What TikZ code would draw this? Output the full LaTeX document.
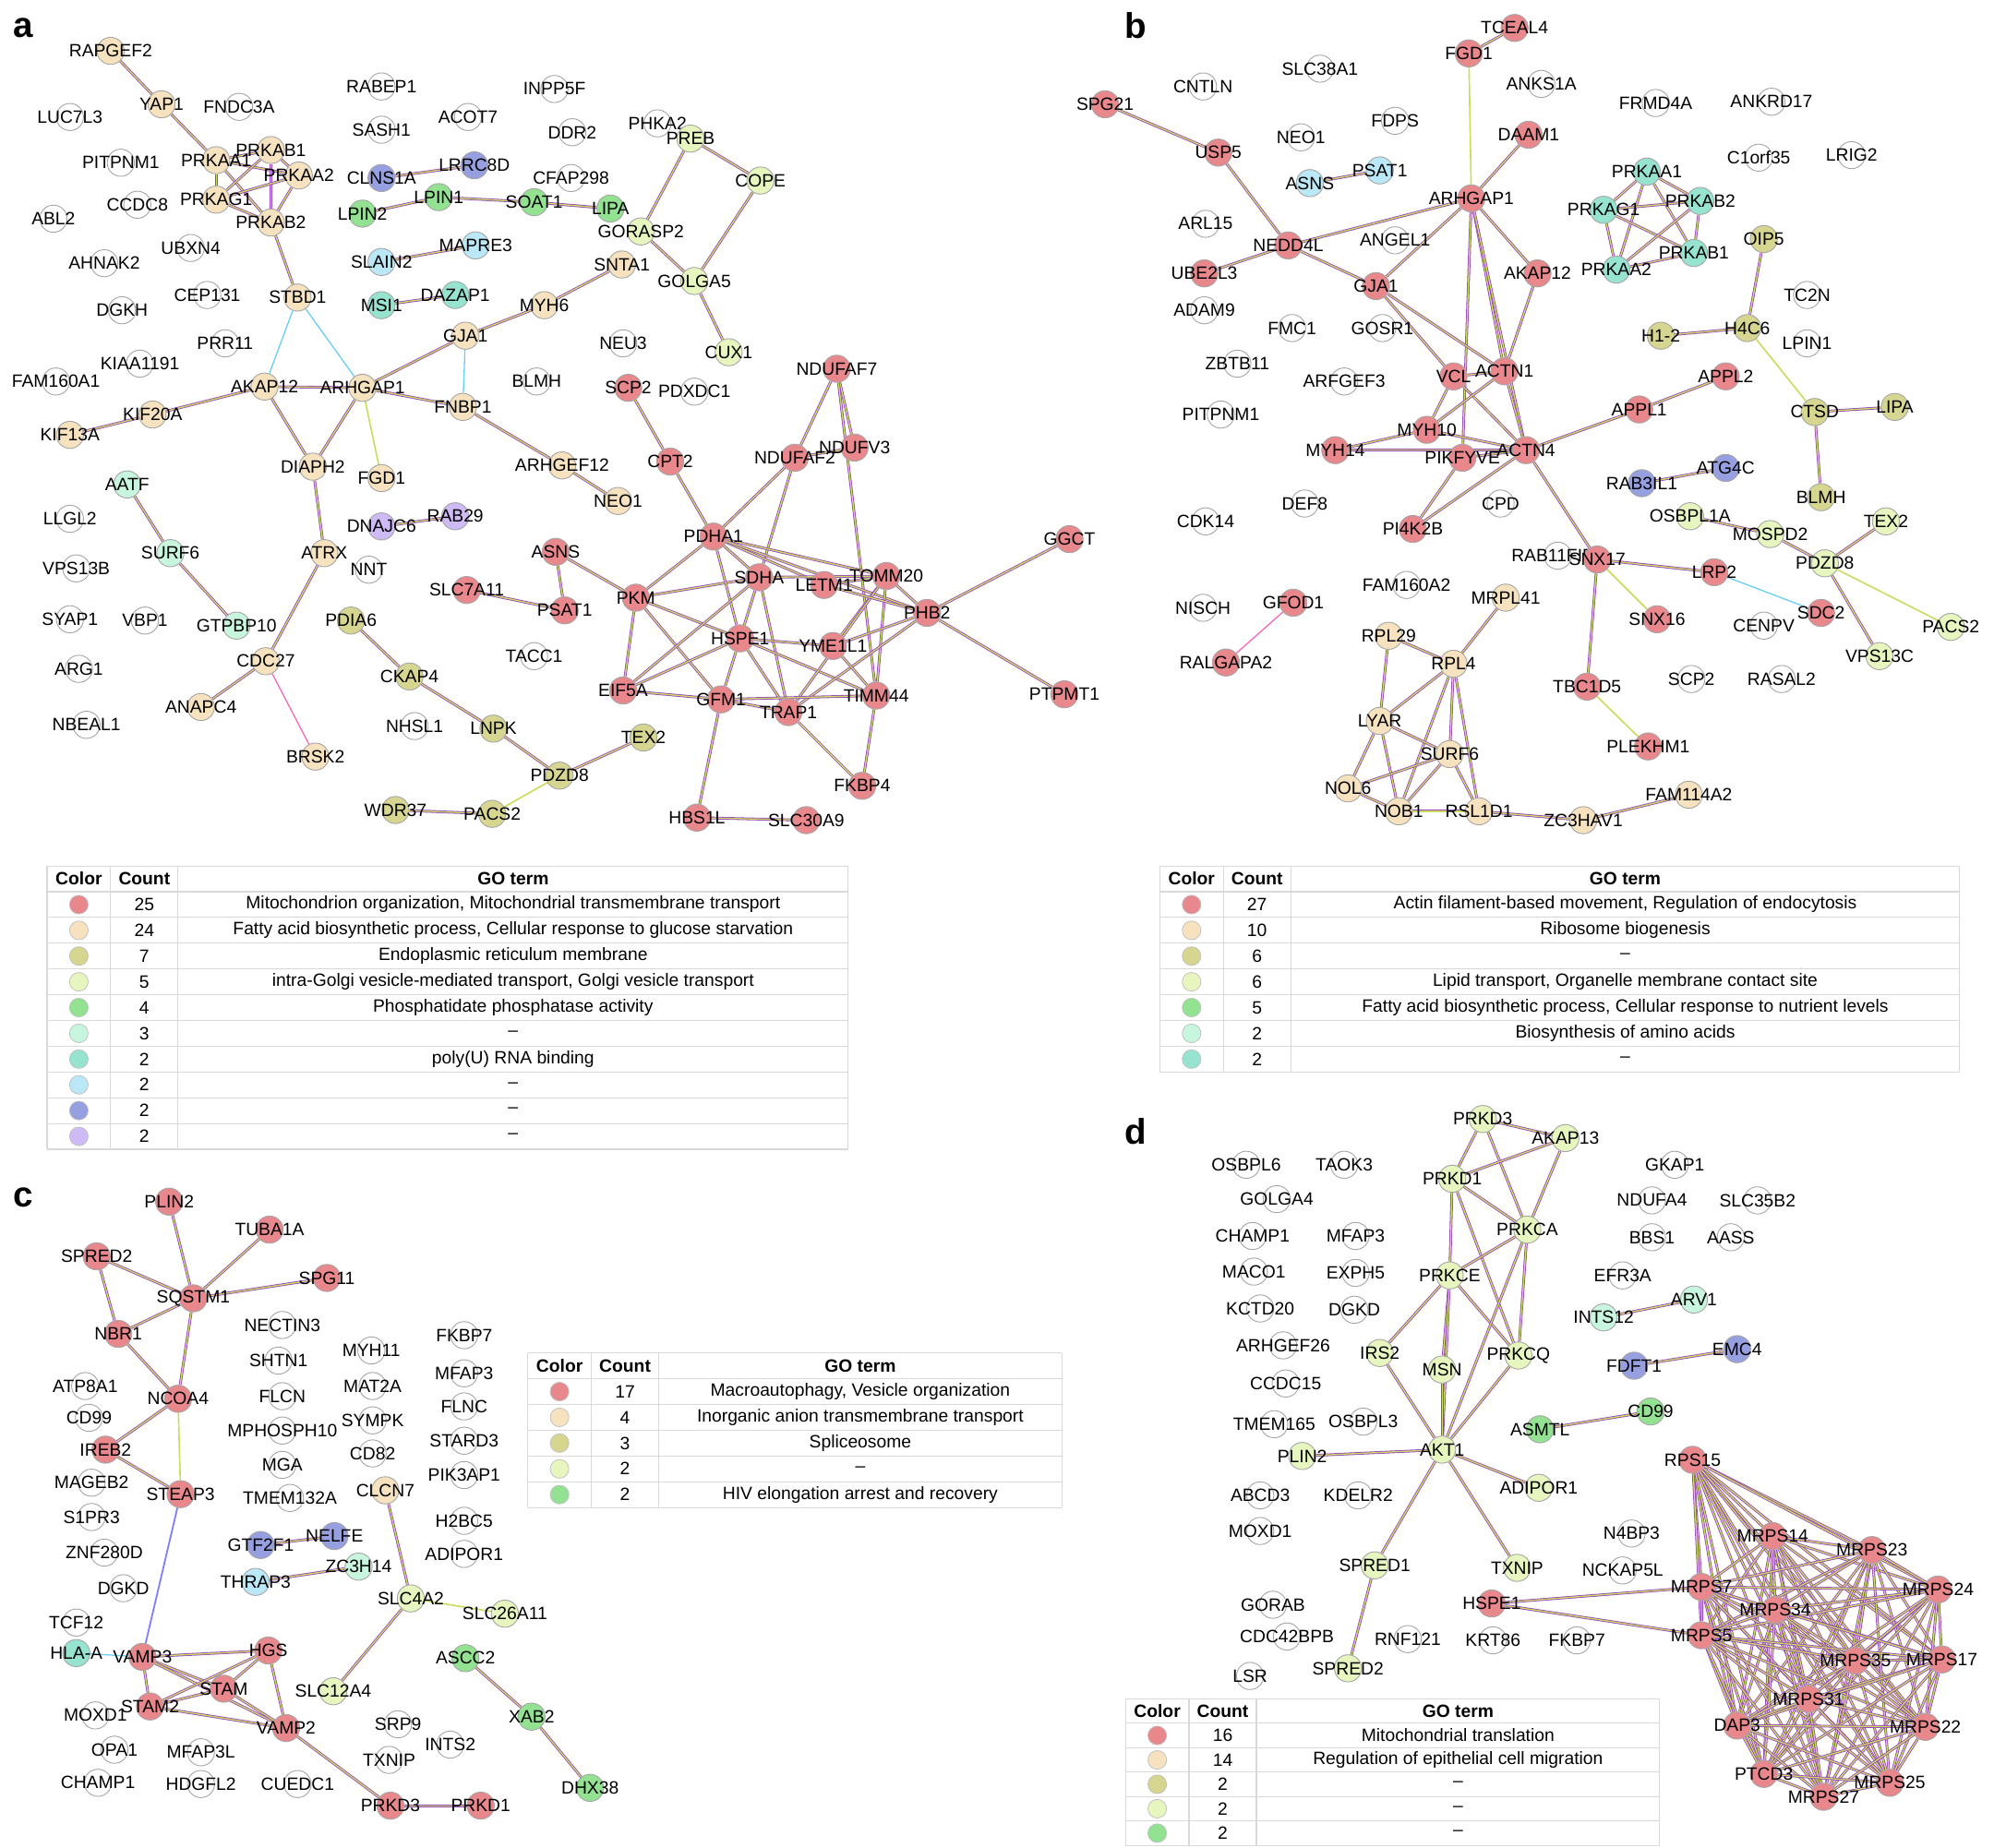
\documentclass[tikz,border=0pt]{standalone}
\usepackage{fontspec}
\setmainfont{Liberation Sans}
\pgfdeclarelayer{bg}\pgfsetlayers{bg,main}
\definecolor{cR}{RGB}{233,136,140}
\definecolor{cT}{RGB}{246,226,190}
\definecolor{cO}{RGB}{214,214,144}
\definecolor{cLG}{RGB}{230,246,190}
\definecolor{cG}{RGB}{146,226,146}
\definecolor{cM}{RGB}{200,245,222}
\definecolor{cTe}{RGB}{150,228,208}
\definecolor{cLB}{RGB}{186,232,246}
\definecolor{cB}{RGB}{150,160,224}
\definecolor{cL}{RGB}{206,186,244}
\definecolor{eY}{RGB}{205,220,95}
\definecolor{eP}{RGB}{150,70,190}
\tikzset{
 gene/.style={circle,draw=gray!70,line width=0.5pt,minimum size=16pt,inner sep=0pt},
 lab/.style={font=\fontsize{10.5}{12}\selectfont,inner sep=0pt,text=black},
 edge/.style={draw=eP,line width=0.45pt,double=eY,double distance=0.7pt},
 cedge/.style={draw=cyan!60,line width=0.7pt},
 yedge/.style={draw=eY,line width=0.9pt},
 panel/.style={font=\bfseries\fontsize{21}{24}\selectfont,inner sep=0pt},
 hd/.style={font=\bfseries\fontsize{10.5}{12}\selectfont,inner sep=0pt}
}
\newcommand\G[5]{\node[gene,fill=#5,label={[lab]center:#2}] (#1#2) at (#3,#4) {};}
\newcommand\E[2]{\foreach \u/\v in {#2}{\draw[edge] (#1\u)--(#1\v);}}
\newcommand\Clq[2]{\foreach \u [count=\i] in {#2}{\foreach \v [count=\j] in {#2}{\ifnum\i<\j \draw[edge] (#1\u)--(#1\v);\fi}}}
\def\rh{20.25}
\newcommand\Leg[8]{%
 \foreach \k in {0,...,#8}{\draw[gray!30,line width=0.6pt] (#2,{#6+\rh*\k})--(#5,{#6+\rh*\k});}
 \draw[gray!30,line width=0.6pt] (#2,{#6+\rh*(#8+1)})--(#5,{#6+\rh*(#8+1)});
 \foreach \xx in {#2,#3,#4,#5}{\draw[gray!30,line width=0.6pt] (\xx,#6)--(\xx,{#6+\rh*(#8+1)});}
 \node[hd] (#1h1) at ({(#2+#3)/2},{#6+\rh/2}) {Color};
 \node[hd] (#1h2) at ({(#3+#4)/2},{#6+\rh/2}) {Count};
 \node[hd] (#1h3) at ({(#4+#5)/2},{#6+\rh/2}) {GO term};
 \foreach [count=\i] \c/\n/\t in {#7}{%
  \node[circle,fill=\c,draw=gray!50,minimum size=11pt,inner sep=0pt] (#1c\i) at ({(#2+#3)/2},{#6+\rh/2+\rh*\i}) {};
  \node[lab] (#1n\i) at ({(#3+#4)/2},{#6+\rh/2+\rh*\i}) {\n};
  \node[lab] (#1t\i) at ({(#4+#5)/2},{#6+\rh/2+\rh*\i}) {\t};}}
\begin{document}
\begin{tikzpicture}[x=0.75pt,y=-0.75pt]
\useasboundingbox (0,0) rectangle (1568,1453);
\node[panel] (pa) at (18,22) {a};
\node[panel] (pb) at (893,20) {b};
\node[panel] (pc) at (18,942) {c};
\node[panel] (pd) at (893,890) {d};
% ---------- panel a
\G{a}{RAPGEF2}{87}{40}{cT}\G{a}{YAP1}{127}{82}{cT}\G{a}{FNDC3A}{188}{84}{white}
\G{a}{LUC7L3}{55}{92}{white}\G{a}{RABEP1}{300}{68}{white}\G{a}{INPP5F}{436}{70}{white}
\G{a}{SASH1}{300}{102}{white}\G{a}{ACOT7}{368}{92}{white}\G{a}{DDR2}{450}{104}{white}
\G{a}{PHKA2}{517}{97}{white}\G{a}{PRKAB1}{213}{118}{cT}\G{a}{PITPNM1}{95}{128}{white}
\G{a}{PRKAA1}{170}{126}{cT}\G{a}{PRKAA2}{235}{138}{cT}\G{a}{CLNS1A}{300}{140}{cB}
\G{a}{LRRC8D}{373}{130}{cB}\G{a}{CFAP298}{449}{140}{white}\G{a}{PREB}{543}{109}{cLG}
\G{a}{COPE}{598}{142}{cLG}\G{a}{CCDC8}{108}{161}{white}\G{a}{PRKAG1}{170}{157}{cT}
\G{a}{LPIN2}{285}{168}{cG}\G{a}{LPIN1}{345}{155}{cG}\G{a}{SOAT1}{420}{159}{cG}
\G{a}{LIPA}{480}{164}{cG}\G{a}{ABL2}{42}{172}{white}\G{a}{PRKAB2}{213}{175}{cT}
\G{a}{UBXN4}{150}{195}{white}\G{a}{GORASP2}{504}{182}{cLG}\G{a}{AHNAK2}{82}{207}{white}
\G{a}{SLAIN2}{300}{206}{cLB}\G{a}{MAPRE3}{374}{193}{cLB}\G{a}{SNTA1}{489}{208}{cT}
\G{a}{GOLGA5}{546}{221}{cLG}\G{a}{CEP131}{163}{232}{white}\G{a}{STBD1}{234}{234}{cT}
\G{a}{DGKH}{96}{244}{white}\G{a}{MSI1}{300}{240}{cTe}\G{a}{DAZAP1}{358}{232}{cTe}
\G{a}{MYH6}{428}{240}{cT}\G{a}{GJA1}{366}{264}{cT}\G{a}{CUX1}{573}{277}{cLG}
\G{a}{KIAA1191}{110}{286}{white}\G{a}{PRR11}{177}{270}{white}\G{a}{NEU3}{490}{270}{white}
\G{a}{FAM160A1}{44}{300}{white}\G{a}{AKAP12}{208}{304}{cT}\G{a}{ARHGAP1}{285}{305}{cT}
\G{a}{FNBP1}{364}{320}{cT}\G{a}{BLMH}{422}{300}{white}\G{a}{SCP2}{494}{305}{cR}
\G{a}{PDXDC1}{546}{308}{white}\G{a}{NDUFAF7}{658}{290}{cR}\G{a}{KIF20A}{120}{326}{cT}
\G{a}{KIF13A}{55}{342}{cT}\G{a}{NDUFAF2}{625}{360}{cR}\G{a}{NDUFV3}{672}{352}{cR}
\G{a}{ARHGEF12}{442}{366}{cT}\G{a}{CPT2}{527}{363}{cR}\G{a}{DIAPH2}{246}{367}{cT}
\G{a}{FGD1}{300}{376}{cT}\G{a}{NEO1}{486}{394}{cT}\G{a}{AATF}{100}{381}{cM}
\G{a}{LLGL2}{55}{408}{white}\G{a}{DNAJC6}{300}{414}{cL}\G{a}{RAB29}{358}{406}{cL}
\G{a}{SURF6}{134}{435}{cM}\G{a}{ATRX}{255}{435}{cT}\G{a}{NNT}{290}{448}{white}
\G{a}{VPS13B}{60}{447}{white}\G{a}{PDHA1}{561}{422}{cR}\G{a}{GGCT}{841}{424}{cR}
\G{a}{ASNS}{437}{434}{cR}\G{a}{SDHA}{597}{454}{cR}\G{a}{LETM1}{648}{460}{cR}
\G{a}{TOMM20}{697}{453}{cR}\G{a}{SLC7A11}{367}{464}{cR}\G{a}{PSAT1}{444}{480}{cR}
\G{a}{PKM}{500}{470}{cR}\G{a}{PHB2}{729}{482}{cR}\G{a}{SYAP1}{55}{487}{white}
\G{a}{VBP1}{114}{488}{white}\G{a}{GTPBP10}{186}{492}{cM}\G{a}{PDIA6}{276}{488}{cO}
\G{a}{TACC1}{420}{516}{white}\G{a}{HSPE1}{582}{502}{cR}\G{a}{YME1L1}{655}{508}{cR}
\G{a}{ARG1}{62}{526}{white}\G{a}{CDC27}{209}{520}{cT}\G{a}{CKAP4}{322}{532}{cO}
\G{a}{EIF5A}{490}{543}{cR}\G{a}{GFM1}{567}{550}{cR}\G{a}{TIMM44}{689}{547}{cR}
\G{a}{TRAP1}{620}{560}{cR}\G{a}{PTPMT1}{837}{546}{cR}\G{a}{NBEAL1}{68}{570}{white}
\G{a}{ANAPC4}{158}{556}{cT}\G{a}{NHSL1}{326}{571}{white}\G{a}{LNPK}{388}{573}{cO}
\G{a}{TEX2}{506}{580}{cO}\G{a}{BRSK2}{248}{595}{cT}\G{a}{PDZD8}{440}{610}{cO}
\G{a}{FKBP4}{678}{618}{cR}\G{a}{WDR37}{311}{637}{cO}\G{a}{PACS2}{387}{640}{cO}
\G{a}{HBS1L}{548}{643}{cR}\G{a}{SLC30A9}{634}{645}{cR}
% ---------- panel b
\G{b}{TCEAL4}{1191}{22}{cR}\G{b}{FGD1}{1155}{42}{cR}\G{b}{SPG21}{869}{82}{cR}
\G{b}{CNTLN}{946}{68}{white}\G{b}{SLC38A1}{1038}{54}{white}\G{b}{ANKS1A}{1212}{66}{white}
\G{b}{FRMD4A}{1302}{81}{white}\G{b}{ANKRD17}{1393}{80}{white}\G{b}{USP5}{958}{120}{cR}
\G{b}{NEO1}{1023}{108}{white}\G{b}{FDPS}{1097}{95}{white}\G{b}{DAAM1}{1202}{106}{cR}
\G{b}{C1orf35}{1383}{124}{white}\G{b}{LRIG2}{1456}{122}{white}\G{b}{ASNS}{1030}{144}{cLB}
\G{b}{PSAT1}{1085}{134}{cLB}\G{b}{PRKAA1}{1295}{135}{cTe}\G{b}{ARHGAP1}{1157}{156}{cR}
\G{b}{PRKAG1}{1261}{165}{cTe}\G{b}{PRKAB2}{1337}{158}{cTe}\G{b}{ARL15}{948}{176}{white}
\G{b}{NEDD4L}{1013}{193}{cR}\G{b}{ANGEL1}{1097}{189}{white}\G{b}{PRKAA2}{1271}{212}{cTe}
\G{b}{PRKAB1}{1332}{199}{cTe}\G{b}{OIP5}{1387}{188}{cO}\G{b}{UBE2L3}{947}{215}{cR}
\G{b}{AKAP12}{1209}{215}{cR}\G{b}{GJA1}{1082}{225}{cR}\G{b}{TC2N}{1421}{232}{white}
\G{b}{ADAM9}{947}{244}{white}\G{b}{FMC1}{1016}{258}{white}\G{b}{GOSR1}{1087}{258}{white}
\G{b}{H4C6}{1374}{258}{cO}\G{b}{H1-2}{1306}{264}{cO}\G{b}{LPIN1}{1421}{270}{white}
\G{b}{ZBTB11}{973}{286}{white}\G{b}{ARFGEF3}{1057}{300}{white}\G{b}{ACTN1}{1183}{292}{cR}
\G{b}{VCL}{1143}{296}{cR}\G{b}{APPL2}{1357}{296}{cR}\G{b}{CTSD}{1427}{324}{cO}
\G{b}{LIPA}{1490}{320}{cO}\G{b}{APPL1}{1289}{322}{cR}\G{b}{PITPNM1}{960}{326}{white}
\G{b}{MYH10}{1122}{338}{cR}\G{b}{MYH14}{1050}{354}{cR}\G{b}{PIKFYVE}{1150}{360}{cR}
\G{b}{ACTN4}{1200}{354}{cR}\G{b}{RAB3IL1}{1291}{380}{cB}\G{b}{ATG4C}{1357}{368}{cB}
\G{b}{CPD}{1180}{396}{white}\G{b}{BLMH}{1432}{391}{cO}\G{b}{TEX2}{1483}{410}{cLG}
\G{b}{OSBPL1A}{1329}{406}{cLG}\G{b}{MOSPD2}{1392}{420}{cLG}\G{b}{CDK14}{948}{410}{white}
\G{b}{DEF8}{1026}{396}{white}\G{b}{PI4K2B}{1111}{416}{cR}\G{b}{RAB11FIP5}{1225}{437}{white}
\G{b}{SNX17}{1256}{440}{cR}\G{b}{PDZD8}{1435}{443}{cLG}\G{b}{LRP2}{1348}{450}{cR}
\G{b}{FAM160A2}{1106}{460}{white}\G{b}{MRPL41}{1184}{470}{cT}\G{b}{SNX16}{1303}{487}{cR}
\G{b}{GFOD1}{1017}{474}{cR}\G{b}{NISCH}{946}{478}{white}\G{b}{CENPV}{1387}{492}{white}
\G{b}{SDC2}{1432}{482}{cR}\G{b}{PACS2}{1534}{493}{cLG}\G{b}{VPS13C}{1478}{516}{cLG}
\G{b}{RALGAPA2}{964}{521}{cR}\G{b}{RPL29}{1092}{500}{cT}\G{b}{RPL4}{1143}{522}{cT}
\G{b}{TBC1D5}{1248}{540}{cR}\G{b}{SCP2}{1330}{534}{white}\G{b}{RASAL2}{1401}{534}{white}
\G{b}{LYAR}{1085}{567}{cT}\G{b}{PLEKHM1}{1296}{587}{cR}\G{b}{SURF6}{1140}{593}{cT}
\G{b}{NOL6}{1060}{620}{cT}\G{b}{FAM114A2}{1328}{625}{cT}\G{b}{NOB1}{1100}{638}{cT}
\G{b}{RSL1D1}{1163}{638}{cT}\G{b}{ZC3HAV1}{1245}{645}{cT}
% ---------- panel c
\G{c}{PLIN2}{133}{945}{cR}\G{c}{TUBA1A}{212}{967}{cR}\G{c}{SPRED2}{76}{988}{cR}
\G{c}{SPG11}{257}{1005}{cR}\G{c}{SQSTM1}{152}{1021}{cR}\G{c}{NECTIN3}{222}{1042}{white}
\G{c}{NBR1}{93}{1049}{cR}\G{c}{SHTN1}{219}{1070}{white}\G{c}{MYH11}{292}{1062}{white}
\G{c}{FKBP7}{365}{1050}{white}\G{c}{MFAP3}{365}{1080}{white}\G{c}{NCOA4}{140}{1100}{cR}
\G{c}{FLCN}{222}{1098}{white}\G{c}{MAT2A}{293}{1090}{white}\G{c}{ATP8A1}{67}{1090}{white}
\G{c}{FLNC}{365}{1106}{white}\G{c}{MPHOSPH10}{222}{1125}{white}\G{c}{SYMPK}{293}{1117}{white}
\G{c}{STARD3}{365}{1133}{white}\G{c}{CD99}{70}{1115}{white}\G{c}{IREB2}{83}{1140}{cR}
\G{c}{MAGEB2}{72}{1166}{white}\G{c}{S1PR3}{72}{1193}{white}\G{c}{ZNF280D}{82}{1221}{white}
\G{c}{DGKD}{97}{1249}{white}\G{c}{TCF12}{60}{1276}{white}\G{c}{HLA-A}{60}{1300}{cTe}
\G{c}{MGA}{222}{1152}{white}\G{c}{CD82}{293}{1143}{white}\G{c}{PIK3AP1}{365}{1160}{white}
\G{c}{TMEM132A}{228}{1178}{white}\G{c}{CLCN7}{303}{1172}{cT}\G{c}{H2BC5}{365}{1196}{white}
\G{c}{STEAP3}{142}{1175}{cR}\G{c}{GTF2F1}{205}{1215}{cB}\G{c}{NELFE}{263}{1208}{cB}
\G{c}{ADIPOR1}{365}{1222}{white}\G{c}{THRAP3}{201}{1244}{cLB}\G{c}{ZC3H14}{282}{1232}{cM}
\G{c}{SLC4A2}{323}{1257}{cLG}\G{c}{SLC26A11}{397}{1269}{cLG}\G{c}{VAMP3}{112}{1303}{cR}
\G{c}{HGS}{211}{1298}{cR}\G{c}{ASCC2}{366}{1304}{cG}\G{c}{SLC12A4}{262}{1330}{cLG}
\G{c}{STAM}{176}{1328}{cR}\G{c}{STAM2}{118}{1342}{cR}\G{c}{VAMP2}{225}{1359}{cR}
\G{c}{XAB2}{418}{1350}{cG}\G{c}{MOXD1}{75}{1349}{white}\G{c}{SRP9}{313}{1356}{white}
\G{c}{MFAP3L}{158}{1378}{white}\G{c}{OPA1}{90}{1376}{white}\G{c}{INTS2}{354}{1372}{white}
\G{c}{TXNIP}{306}{1384}{white}\G{c}{DHX38}{464}{1406}{cG}\G{c}{CHAMP1}{77}{1402}{white}
\G{c}{HDGFL2}{158}{1403}{white}\G{c}{CUEDC1}{234}{1403}{white}\G{c}{PRKD3}{307}{1420}{cR}
\G{c}{PRKD1}{378}{1420}{cR}
% ---------- panel d
\G{d}{PRKD3}{1166}{880}{cLG}\G{d}{AKAP13}{1231}{895}{cLG}\G{d}{OSBPL6}{980}{916}{white}
\G{d}{TAOK3}{1057}{916}{white}\G{d}{GKAP1}{1317}{916}{white}\G{d}{PRKD1}{1142}{927}{cLG}
\G{d}{GOLGA4}{1004}{943}{white}\G{d}{NDUFA4}{1299}{944}{white}\G{d}{SLC35B2}{1382}{944}{white}
\G{d}{CHAMP1}{985}{972}{white}\G{d}{MFAP3}{1066}{972}{white}\G{d}{PRKCA}{1201}{967}{cLG}
\G{d}{BBS1}{1299}{973}{white}\G{d}{AASS}{1361}{973}{white}\G{d}{MACO1}{986}{1000}{white}
\G{d}{EXPH5}{1066}{1001}{white}\G{d}{PRKCE}{1140}{1003}{cLG}\G{d}{EFR3A}{1276}{1003}{white}
\G{d}{KCTD20}{991}{1029}{white}\G{d}{DGKD}{1065}{1030}{white}\G{d}{INTS12}{1261}{1036}{cM}
\G{d}{ARV1}{1332}{1022}{cM}\G{d}{ARHGEF26}{1009}{1058}{white}\G{d}{IRS2}{1085}{1064}{cLG}
\G{d}{MSN}{1134}{1077}{cLG}\G{d}{PRKCQ}{1194}{1066}{cLG}\G{d}{FDFT1}{1285}{1074}{cB}
\G{d}{EMC4}{1366}{1061}{cB}\G{d}{CCDC15}{1011}{1088}{white}\G{d}{AKT1}{1134}{1140}{cLG}
\G{d}{TMEM165}{1002}{1120}{white}\G{d}{OSBPL3}{1072}{1118}{white}\G{d}{ASMTL}{1211}{1124}{cG}
\G{d}{CD99}{1298}{1110}{cG}\G{d}{PLIN2}{1024}{1145}{cLG}\G{d}{ADIPOR1}{1210}{1170}{cLG}
\G{d}{RPS15}{1331}{1148}{cR}\G{d}{ABCD3}{991}{1176}{white}\G{d}{KDELR2}{1068}{1176}{white}
\G{d}{MOXD1}{991}{1204}{white}\G{d}{N4BP3}{1283}{1206}{white}\G{d}{MRPS14}{1394}{1208}{cR}
\G{d}{MRPS23}{1472}{1219}{cR}\G{d}{SPRED1}{1081}{1231}{cLG}\G{d}{TXNIP}{1193}{1233}{cLG}
\G{d}{NCKAP5L}{1276}{1235}{white}\G{d}{MRPS7}{1338}{1248}{cR}\G{d}{MRPS24}{1524}{1250}{cR}
\G{d}{MRPS34}{1396}{1266}{cR}\G{d}{GORAB}{1001}{1262}{white}\G{d}{HSPE1}{1173}{1261}{cR}
\G{d}{MRPS5}{1338}{1286}{cR}\G{d}{MRPS35}{1459}{1306}{cR}\G{d}{MRPS17}{1527}{1305}{cR}
\G{d}{CDC42BPB}{1012}{1287}{white}\G{d}{RNF121}{1107}{1289}{white}\G{d}{KRT86}{1174}{1290}{white}
\G{d}{FKBP7}{1240}{1290}{white}\G{d}{SPRED2}{1060}{1312}{cLG}\G{d}{MRPS31}{1422}{1336}{cR}
\G{d}{DAP3}{1366}{1357}{cR}\G{d}{MRPS22}{1514}{1358}{cR}\G{d}{LSR}{983}{1318}{white}
\G{d}{PTCD3}{1387}{1395}{cR}\G{d}{MRPS25}{1486}{1402}{cR}\G{d}{MRPS27}{1434}{1413}{cR}
% ---------- edges
\begin{pgfonlayer}{bg}
\E{a}{RAPGEF2/YAP1,YAP1/PRKAA1,PRKAB2/STBD1,CLNS1A/LRRC8D,LPIN2/LPIN1,LPIN1/SOAT1,SOAT1/LIPA,PREB/COPE,PREB/GORASP2,COPE/GOLGA5,GORASP2/GOLGA5,GOLGA5/CUX1,SLAIN2/MAPRE3,MSI1/DAZAP1,MYH6/SNTA1,MYH6/GJA1,GJA1/ARHGAP1,ARHGAP1/AKAP12,ARHGAP1/FNBP1,ARHGAP1/DIAPH2,AKAP12/KIF20A,KIF20A/KIF13A,AKAP12/DIAPH2,DIAPH2/ATRX,ATRX/CDC27,CDC27/ANAPC4,FNBP1/ARHGEF12,ARHGEF12/NEO1,AATF/SURF6,SURF6/GTPBP10,DNAJC6/RAB29,PDIA6/CKAP4,CKAP4/LNPK,LNPK/PDZD8,PDZD8/TEX2,WDR37/PACS2,SCP2/CPT2,CPT2/PDHA1,NDUFAF7/NDUFV3,NDUFAF7/NDUFAF2,NDUFAF2/NDUFV3,NDUFAF2/PDHA1,NDUFAF2/SDHA,NDUFAF7/TIMM44,ASNS/PSAT1,SLC7A11/PSAT1,ASNS/PKM,PKM/PDHA1,PKM/SDHA,PKM/HSPE1,PKM/EIF5A,PKM/GFM1,PDHA1/SDHA,PDHA1/HSPE1,PDHA1/LETM1,PDHA1/TOMM20,PDHA1/PHB2,SDHA/HSPE1,SDHA/TOMM20,SDHA/TRAP1,HSPE1/YME1L1,HSPE1/TIMM44,HSPE1/GFM1,HSPE1/TRAP1,HSPE1/EIF5A,TOMM20/PHB2,TOMM20/YME1L1,TOMM20/TIMM44,TOMM20/LETM1,TOMM20/TRAP1,PHB2/GGCT,PHB2/PTPMT1,PHB2/YME1L1,PHB2/TRAP1,LETM1/PHB2,TIMM44/FKBP4,TRAP1/FKBP4,GFM1/HBS1L,HBS1L/SLC30A9,GFM1/EIF5A,GFM1/TRAP1,GFM1/TIMM44,TIMM44/YME1L1,EIF5A/SDHA}
\Clq{a}{PRKAA1,PRKAB1,PRKAA2,PRKAG1,PRKAB2}
\draw[cedge] (aSTBD1)--(aARHGAP1); \draw[cedge] (aSTBD1)--(aAKAP12); \draw[cedge] (aGJA1)--(aFNBP1);
\draw[yedge] (aARHGAP1)--(aFGD1); \draw[yedge] (aPDZD8)--(aPACS2); \draw[draw=magenta!60,line width=0.7pt] (aCDC27)--(aBRSK2);
\E{b}{TCEAL4/FGD1,SPG21/USP5,USP5/NEDD4L,NEDD4L/UBE2L3,NEDD4L/GJA1,NEDD4L/ARHGAP1,ARHGAP1/DAAM1,ARHGAP1/GJA1,ARHGAP1/AKAP12,ARHGAP1/ACTN1,ARHGAP1/ACTN4,ARHGAP1/PIKFYVE,GJA1/VCL,GJA1/ACTN1,VCL/ACTN1,VCL/ACTN4,VCL/MYH10,ACTN1/ACTN4,ACTN1/MYH10,ACTN1/AKAP12,MYH10/MYH14,MYH10/ACTN4,MYH14/ACTN4,PIKFYVE/PI4K2B,PIKFYVE/ACTN4,ACTN4/APPL1,APPL1/APPL2,ACTN4/SNX17,PI4K2B/ACTN4,SNX17/LRP2,SNX17/TBC1D5,ASNS/PSAT1,OIP5/H4C6,H1-2/H4C6,CTSD/LIPA,CTSD/BLMH,TEX2/PDZD8,MOSPD2/PDZD8,OSBPL1A/MOSPD2,PDZD8/VPS13C,RPL29/RPL4,RPL29/LYAR,RPL4/MRPL41,RPL4/LYAR,RPL4/SURF6,RPL4/NOB1,RPL4/RSL1D1,LYAR/SURF6,LYAR/NOL6,LYAR/NOB1,SURF6/NOL6,SURF6/NOB1,SURF6/RSL1D1,NOL6/NOB1,NOB1/RSL1D1,RSL1D1/ZC3HAV1,ZC3HAV1/FAM114A2,RAB3IL1/ATG4C}
\Clq{b}{PRKAA1,PRKAG1,PRKAB2,PRKAA2,PRKAB1}
\draw[yedge] (bFGD1)--(bARHGAP1); \draw[yedge] (bH4C6)--(bCTSD); \draw[yedge] (bSNX17)--(bSNX16);
\draw[yedge] (bTBC1D5)--(bPLEKHM1); \draw[yedge] (bPDZD8)--(bPACS2); \draw[cedge] (bLRP2)--(bSDC2);
\draw[draw=magenta!60,line width=0.7pt] (bGFOD1)--(bRALGAPA2);
\E{c}{PLIN2/SQSTM1,TUBA1A/SQSTM1,SPRED2/SQSTM1,SPRED2/NBR1,SPG11/SQSTM1,SQSTM1/NBR1,SQSTM1/NCOA4,NBR1/NCOA4,NCOA4/IREB2,IREB2/STEAP3,VAMP3/HGS,VAMP3/STAM,VAMP3/STAM2,VAMP3/VAMP2,HGS/STAM,HGS/STAM2,HGS/VAMP2,STAM/STAM2,STAM/VAMP2,STAM2/VAMP2,VAMP2/PRKD3,PRKD3/PRKD1,GTF2F1/NELFE,THRAP3/ZC3H14,CLCN7/SLC4A2,SLC4A2/SLC12A4,ASCC2/XAB2,XAB2/DHX38}
\draw[yedge] (cNCOA4)--(cSTEAP3); \draw[draw=blue!50,line width=1pt] (cSTEAP3)--(cVAMP3);
\draw[cedge] (cVAMP3)--(cHLA-A); \draw[yedge] (cSLC4A2)--(cSLC26A11);
\E{d}{PRKD3/AKAP13,PRKD3/PRKD1,PRKD3/PRKCA,AKAP13/PRKD1,AKAP13/PRKCA,PRKD1/PRKCA,PRKD1/PRKCE,PRKD1/PRKCQ,PRKCA/PRKCE,PRKCA/PRKCQ,PRKCE/PRKCQ,PRKCE/IRS2,PRKCE/MSN,PRKCE/AKT1,PRKCA/AKT1,PRKCQ/AKT1,IRS2/AKT1,MSN/AKT1,AKT1/PLIN2,AKT1/ADIPOR1,AKT1/TXNIP,AKT1/SPRED1,SPRED1/SPRED2,INTS12/ARV1,FDFT1/EMC4,ASMTL/CD99,HSPE1/MRPS7,HSPE1/MRPS5}
\Clq{d}{RPS15,MRPS14,MRPS23,MRPS7,MRPS24,MRPS34,MRPS5,MRPS35,MRPS17,MRPS31,DAP3,MRPS22,PTCD3,MRPS25,MRPS27}
\end{pgfonlayer}
% ---------- legends
\Leg{la}{37}{87}{140}{667}{681}{cR/25/{Mitochondrion organization, Mitochondrial transmembrane transport},cT/24/{Fatty acid biosynthetic process, Cellular response to glucose starvation},cO/7/{Endoplasmic reticulum membrane},cLG/5/{intra-Golgi vesicle-mediated transport, Golgi vesicle transport},cG/4/{Phosphatidate phosphatase activity},cM/3/{–},cTe/2/{poly(U) RNA binding},cLB/2/{–},cB/2/{–},cL/2/{–}}{10}
\Leg{lb}{912}{962}{1015}{1541}{681}{cR/27/{Actin filament-based movement, Regulation of endocytosis},cT/10/{Ribosome biogenesis},cO/6/{–},cLG/6/{Lipid transport, Organelle membrane contact site},cG/5/{Fatty acid biosynthetic process, Cellular response to nutrient levels},cM/2/{Biosynthesis of amino acids},cTe/2/{–}}{7}
\Leg{lc}{415}{465}{518}{835}{1064}{cR/17/{Macroautophagy, Vesicle organization},cT/4/{Inorganic anion transmembrane transport},cO/3/{Spliceosome},cLG/2/{–},cG/2/{HIV elongation arrest and recovery}}{5}
\def\rh{19.2}
\Leg{ld}{885}{935}{988}{1305}{1336}{cR/16/{Mitochondrial translation},cT/14/{Regulation of epithelial cell migration},cO/2/{–},cLG/2/{–},cG/2/{–}}{5}
\end{tikzpicture}
\end{document}
